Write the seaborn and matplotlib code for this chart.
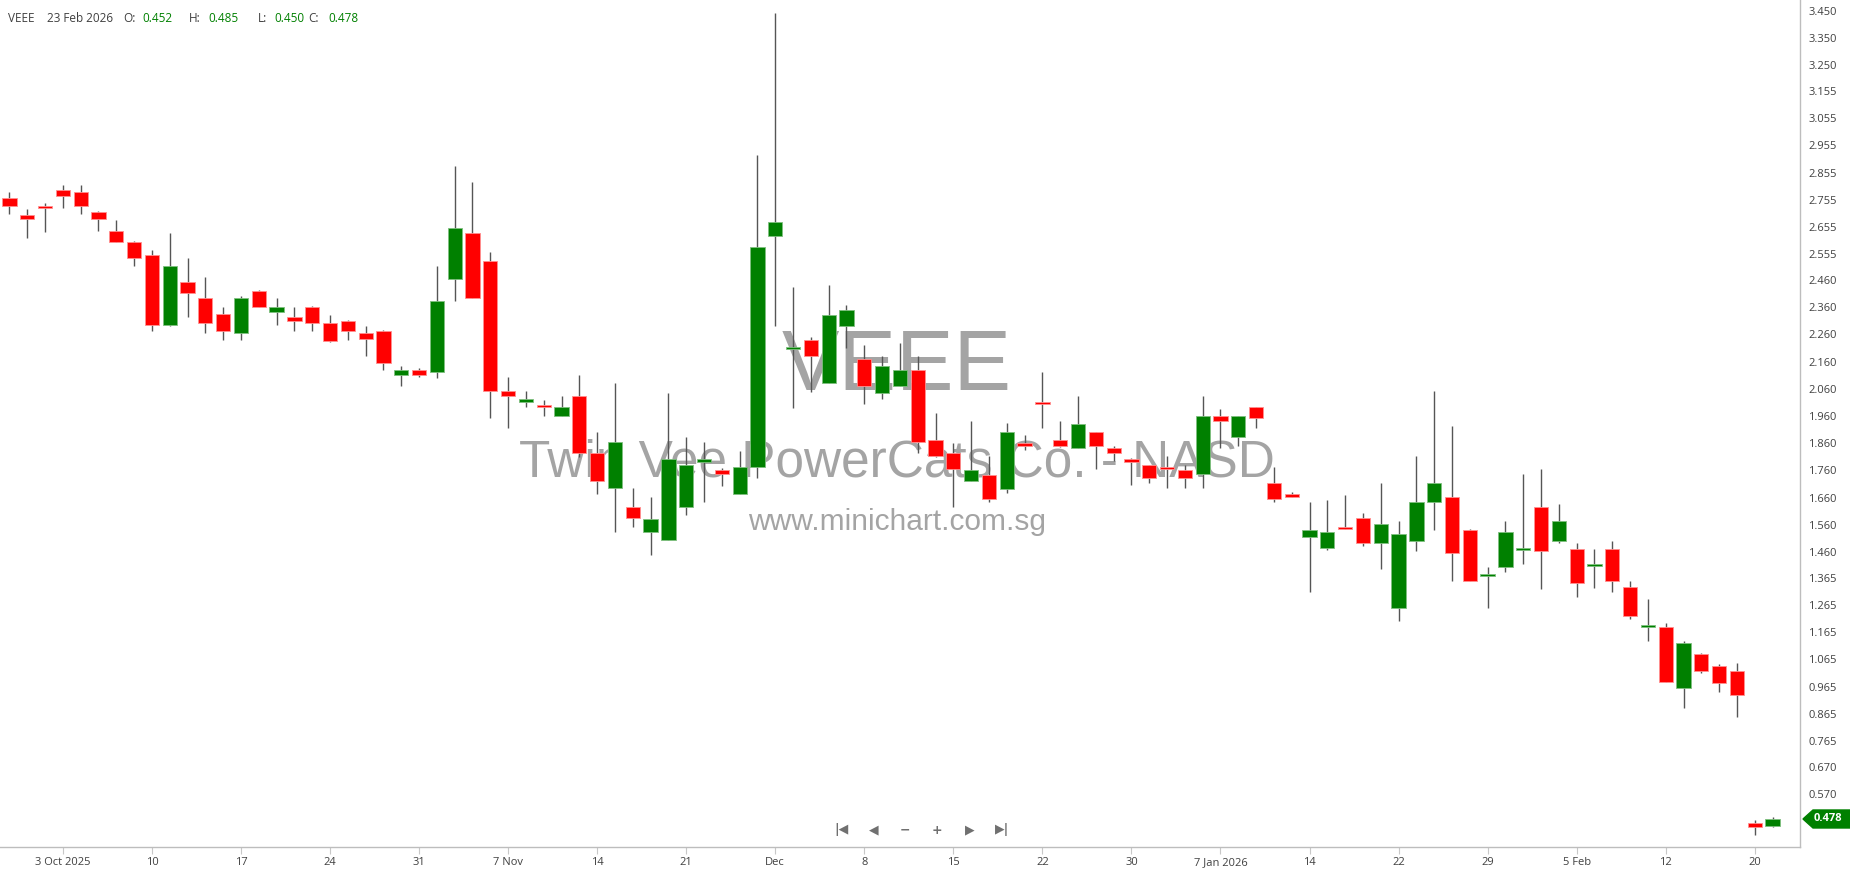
import matplotlib
matplotlib.use('Agg')
import numpy as np
import pandas as pd
import seaborn as sns
import matplotlib.pyplot as plt
from matplotlib.patches import Polygon

# OHLC, one value per trading day (30 Sep 2025 .. 23 Feb 2026)
opens = [2.761, 2.701, 2.733, 2.792, 2.783, 2.711, 2.641, 2.599, 2.553, 2.293,
         2.452, 2.393, 2.334, 2.264, 2.420, 2.342, 2.323, 2.361, 2.301, 2.310,
         2.264, 2.273, 2.112, 2.131, 2.122, 2.463, 2.632, 2.531, 2.053, 2.013,
         2.002, 1.961, 2.034, 1.823, 1.694, 1.624, 1.534, 1.503, 1.627, 1.792,
         1.762, 1.672, 1.774, 2.623, 2.206, 2.240, 2.083, 2.292, 2.171, 2.044,
         2.072, 2.129, 1.872, 1.823, 1.722, 1.744, 1.690, 1.862, 2.009, 1.872,
         1.843, 1.900, 1.841, 1.803, 1.781, 1.771, 1.762, 1.747, 1.960, 1.884,
         1.992, 1.713, 1.672, 1.516, 1.474, 1.550, 1.584, 1.492, 1.255, 1.502,
         1.645, 1.661, 1.541, 1.370, 1.406, 1.466, 1.624, 1.502, 1.472, 1.408,
         1.472, 1.330, 1.185, 1.183, 0.960, 1.084, 1.042, 1.022, 0.465, 0.452]
highs = [2.783, 2.723, 2.743, 2.811, 2.811, 2.715, 2.681, 2.605, 2.572, 2.632,
         2.540, 2.472, 2.360, 2.403, 2.424, 2.393, 2.360, 2.366, 2.333, 2.313,
         2.291, 2.277, 2.144, 2.136, 2.512, 2.880, 2.820, 2.562, 2.102, 2.052,
         2.020, 2.034, 2.111, 1.900, 2.080, 1.694, 1.661, 2.044, 1.884, 1.863,
         1.768, 1.831, 2.920, 3.441, 2.433, 2.250, 2.442, 2.369, 2.221, 2.181,
         2.230, 2.181, 1.972, 1.862, 1.942, 1.813, 1.933, 1.890, 2.123, 1.942,
         2.034, 1.900, 1.850, 1.805, 1.781, 1.813, 1.780, 2.034, 1.985, 1.960,
         1.992, 1.771, 1.682, 1.643, 1.651, 1.670, 1.602, 1.713, 1.574, 1.813,
         2.052, 1.923, 1.545, 1.404, 1.574, 1.746, 1.764, 1.635, 1.492, 1.472,
         1.500, 1.355, 1.286, 1.200, 1.134, 1.087, 1.047, 1.051, 0.475, 0.485]
lows = [2.702, 2.614, 2.637, 2.724, 2.702, 2.642, 2.600, 2.513, 2.273, 2.290,
        2.326, 2.264, 2.241, 2.241, 2.361, 2.293, 2.274, 2.274, 2.231, 2.241,
        2.182, 2.131, 2.072, 2.102, 2.099, 2.383, 2.393, 1.952, 1.915, 1.993,
        1.961, 1.961, 1.810, 1.672, 1.535, 1.553, 1.448, 1.503, 1.595, 1.645,
        1.704, 1.672, 1.731, 2.292, 1.989, 2.050, 2.080, 2.209, 2.003, 2.022,
        2.072, 1.823, 1.810, 1.627, 1.722, 1.645, 1.676, 1.835, 1.915, 1.847,
        1.843, 1.764, 1.795, 1.706, 1.715, 1.694, 1.694, 1.694, 1.841, 1.851,
        1.915, 1.645, 1.661, 1.314, 1.467, 1.543, 1.482, 1.396, 1.207, 1.465,
        1.539, 1.355, 1.355, 1.253, 1.388, 1.416, 1.323, 1.492, 1.296, 1.326,
        1.314, 1.212, 1.134, 0.983, 0.888, 1.016, 0.946, 0.854, 0.420, 0.450]
closes = [2.733, 2.684, 2.724, 2.770, 2.733, 2.684, 2.600, 2.540, 2.293, 2.512,
          2.412, 2.301, 2.274, 2.393, 2.361, 2.361, 2.311, 2.301, 2.236, 2.273,
          2.242, 2.154, 2.131, 2.112, 2.383, 2.650, 2.393, 2.053, 2.035, 2.022,
          1.993, 1.992, 1.823, 1.722, 1.863, 1.584, 1.583, 1.802, 1.780, 1.802,
          1.747, 1.771, 2.581, 2.672, 2.212, 2.182, 2.332, 2.350, 2.072, 2.144,
          2.129, 1.866, 1.814, 1.764, 1.762, 1.654, 1.900, 1.851, 2.003, 1.851,
          1.932, 1.851, 1.824, 1.792, 1.733, 1.764, 1.733, 1.960, 1.943, 1.960,
          1.953, 1.654, 1.664, 1.541, 1.532, 1.543, 1.492, 1.562, 1.525, 1.643,
          1.713, 1.458, 1.355, 1.375, 1.532, 1.472, 1.465, 1.574, 1.347, 1.412,
          1.355, 1.226, 1.189, 0.983, 1.124, 1.024, 0.979, 0.933, 0.447, 0.478]

xtick_labels = ['3 Oct 2025', '10', '17', '24', '31', '7 Nov', '14', '21', 'Dec', '8',
                '15', '22', '30', '7 Jan 2026', '14', '22', '29', '5 Feb', '12', '20']
ytick_labels = ['3.450', '3.350', '3.250', '3.155', '3.055', '2.955', '2.855', '2.755',
                '2.655', '2.555', '2.460', '2.360', '2.260', '2.160', '2.060', '1.960',
                '1.860', '1.760', '1.660', '1.560', '1.460', '1.365', '1.265', '1.165',
                '1.065', '0.965', '0.865', '0.765', '0.670', '0.570']

df = pd.DataFrame({'open': opens, 'high': highs, 'low': lows, 'close': closes})
df['idx'] = np.arange(len(df))
df['up'] = df['close'] >= df['open']
df['bottom'] = df[['open', 'close']].min(axis=1)
df['height'] = (df['close'] - df['open']).abs().clip(lower=0.008)

sns.set_theme(style='white')
plt.rcParams['font.family'] = ['Open Sans', 'DejaVu Sans']

W, H = 1850, 874
fig = plt.figure(figsize=(W / 100, H / 100), dpi=100)
ax = fig.add_axes([0, 27 / H, 1800 / W, 847 / H])

GREEN = '#008000'
RED = '#ff0000'

# watermark, behind the candles
wm = dict(transform=fig.transFigure, ha='center', va='center', color='#a4a4a4',
          family='Liberation Sans', zorder=1)
ax.text(897 / W, 1 - 368 / H, 'VEEE', fontsize=62, **wm)
ax.text(897 / W, 1 - 463 / H, 'Twin Vee PowerCats Co. - NASD', fontsize=37, **wm)
ax.text(897 / W, 1 - 522 / H, 'www.minichart.com.sg', fontsize=21.5, **wm)

# wicks
ax.vlines(df['idx'], df['low'], df['high'], color='#555555', lw=1, zorder=2)
# bodies
ax.bar(df['idx'], df['height'], bottom=df['bottom'], width=0.8,
       color=np.where(df['up'], GREEN, RED),
       edgecolor=np.where(df['up'], '#7fbf7f', '#ff9090'), lw=0.6, zorder=3)

ax.set_xlim(-0.53, 100.54)
ax.set_ylim(0.375, 3.49)

ax.yaxis.tick_right()
ax.set_yticks([float(t) for t in ytick_labels])
ax.set_yticklabels(ytick_labels)
ax.set_xticks(list(range(3, len(df), 5)))
ax.set_xticklabels(xtick_labels)
ax.tick_params(axis='y', direction='out', length=4, width=0.8, color='#b0b0b0',
               labelsize=8, labelcolor='#404040', pad=2, right=True, left=False)
ax.tick_params(axis='x', direction='out', length=5, width=0.8, color='#c8c8c8',
               labelsize=8, labelcolor='#404040', pad=2, bottom=True)
sns.despine(ax=ax, left=True, top=True, right=False, bottom=False)
for s in ['right', 'bottom']:
    ax.spines[s].set_color('#bdbdbd')
    ax.spines[s].set_linewidth(1)
ax.grid(False)

# last price tag: pointed box on the price axis
fig.canvas.draw()
ty = fig.transFigure.inverted().transform(ax.transData.transform((0, closes[-1])))[1]
th = 9 / H
tag = Polygon([(1803 / W, ty), (1813 / W, ty + th), (1850 / W, ty + th),
               (1850 / W, ty - th), (1813 / W, ty - th)], closed=True,
              transform=fig.transFigure, fc=GREEN, ec=GREEN, zorder=5)
fig.patches.append(tag)
fig.text(1814 / W, ty, f'{closes[-1]:.3f}', ha='left', va='center', fontsize=8,
         color='white', fontweight='bold', zorder=6)

# header line
hdr = [(8, 'VEEE', '#404040'), (47, '23 Feb 2026', '#404040'),
       (123, 'O:', '#404040'), (142, f'{opens[-1]:.3f}', GREEN),
       (189, 'H:', '#404040'), (208, f'{highs[-1]:.3f}', GREEN),
       (258, 'L:', '#404040'), (274, f'{lows[-1]:.3f}', GREEN),
       (308, 'C:', '#404040'), (328, f'{closes[-1]:.3f}', GREEN)]
for x, s, c in hdr:
    fig.text(x / W, 1 - 18 / H, s, ha='left', va='center', fontsize=8.5, color=c)

# navigation buttons
nav = [(841, '|◀'), (874, '◀'), (905, '−'), (937, '+'), (970, '▶'), (1002, '▶|')]
for x, s in nav:
    fig.text(x / W, 1 - 830 / H, s, ha='center', va='center', fontsize=9,
             color='#707070', family='DejaVu Sans', fontweight='bold')

fig.savefig('out.png', dpi=100, facecolor='white')
